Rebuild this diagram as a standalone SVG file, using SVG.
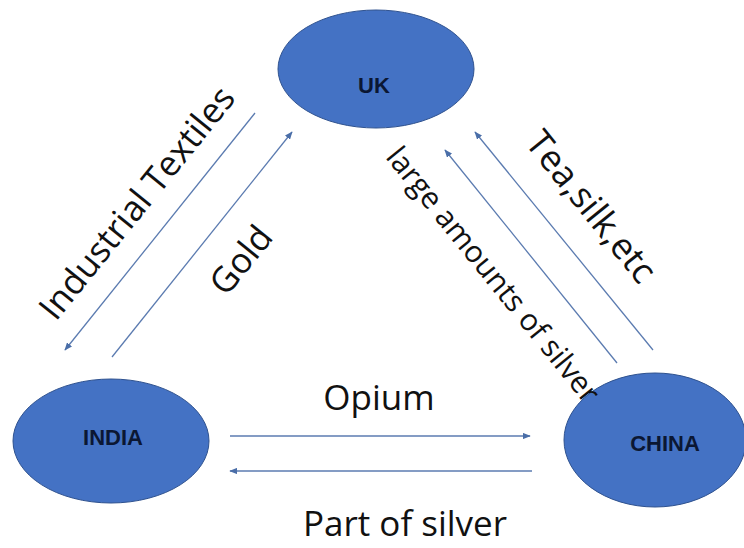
<svg xmlns="http://www.w3.org/2000/svg" width="744" height="548" viewBox="0 0 744 548">
<style>
.node{fill:#4472c4;stroke:#2f528f;stroke-width:1}
.nl{font-family:"Liberation Sans",Arial,sans-serif;font-weight:bold;font-size:22px;fill:#0b1733;text-anchor:middle}
.lbl{font-family:"Open Sans","Noto Sans",sans-serif;font-size:35px;fill:#111;text-anchor:middle}
.con{stroke:#5b7bb0;stroke-width:1.3;fill:none;marker-end:url(#ah)}
</style>
<defs>
<marker id="ah" viewBox="0 0 10 8" refX="9" refY="4" markerWidth="8" markerHeight="6.5" markerUnits="userSpaceOnUse" orient="auto">
<path d="M0,0 L10,4 L0,8 Z" fill="#4a6ea8"/>
</marker>
</defs>
<rect width="744" height="548" fill="#ffffff"/>
<g id="connectors">
<line class="con" x1="255" y1="113" x2="65" y2="350"/>
<line class="con" x1="112" y1="357" x2="292" y2="132"/>
<line class="con" x1="617" y1="363" x2="445" y2="150"/>
<line class="con" x1="653" y1="350" x2="475" y2="132"/>
<line class="con" x1="230" y1="436" x2="530" y2="436"/>
<line class="con" x1="532" y1="471" x2="230" y2="471"/>
</g>
<g id="node-uk">
<ellipse class="node" cx="376" cy="69" rx="98" ry="59"/>
<text class="nl" x="374" y="93">UK</text>
</g>
<g id="node-india">
<ellipse class="node" cx="111" cy="441" rx="98" ry="62"/>
<text class="nl" x="113" y="445">INDIA</text>
</g>
<g id="node-china">
<ellipse class="node" cx="655" cy="440" rx="91" ry="67"/>
<text class="nl" x="665" y="451">CHINA</text>
</g>
<g id="labels">
<text class="lbl" transform="rotate(-51 137 203)" x="137" y="215">Industrial Textiles</text>
<text class="lbl" transform="rotate(-51 241 260)" x="241" y="272">Gold</text>
<text class="lbl" style="font-size:36px" transform="rotate(51 591 207)" x="591" y="219">Tea,silk,etc</text>
<text class="lbl" style="font-size:30px" transform="rotate(51 493 275)" x="493" y="285">large amounts of silver</text>
<text class="lbl" x="379" y="410">Opium</text>
<text class="lbl" x="405" y="536">Part of silver</text>
</g>
</svg>
